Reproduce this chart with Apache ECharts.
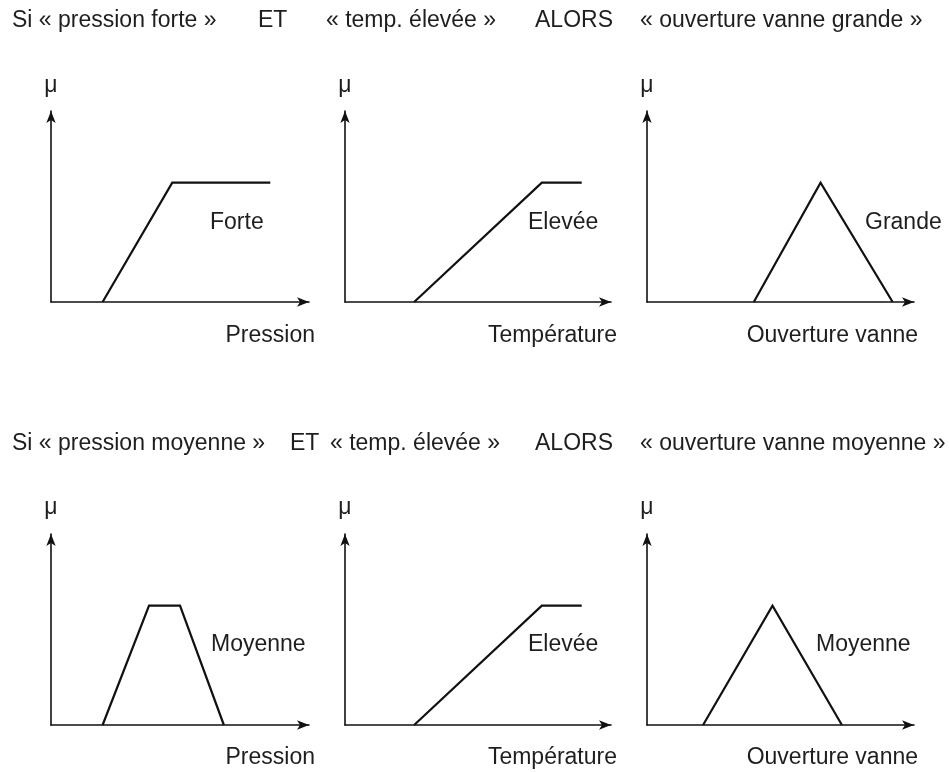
<!DOCTYPE html>
<html>
<head>
<meta charset="utf-8">
<script src="https://cdn.jsdelivr.net/npm/echarts@6/dist/echarts.min.js"></script>
<style>
  html, body { margin: 0; padding: 0; background: #fff; }
  #chart { width: 949px; height: 772px; }
</style>
</head>
<body>
<div id="chart"></div>
<script>
// Rule texts, one clause per chunk
const ruleOne = ['Si « pression forte »', 'ET', '« temp. élevée »', 'ALORS', '« ouverture vanne grande »'];
const ruleTwo = ['Si « pression moyenne »', 'ET', '« temp. élevée »', 'ALORS', '« ouverture vanne moyenne »'];

// Axis and set names
const axisNames = ['Pression', 'Température', 'Ouverture vanne'];
const setNamesOne = ['Forte', 'Elevée', 'Grande'];
const setNamesTwo = ['Moyenne', 'Elevée', 'Moyenne'];
const muLabel = 'μ';

// Membership functions (x on a 0-10 universe, μ from 0 to 1)
const pressionForteX = [2.0, 4.7, 8.5];
const pressionForteMu = [0, 1, 1];
const tempEleveeX = [2.6, 7.4, 8.9];
const tempEleveeMu = [0, 1, 1];
const vanneGrandeX = [4.0, 6.5, 9.2];
const vanneGrandeMu = [0, 1, 0];
const pressionMoyenneX = [2.0, 3.8, 5.0, 6.7];
const pressionMoyenneMu = [0, 1, 1, 0];
const tempEleveeX2 = [2.6, 7.4, 8.9];
const tempEleveeMu2 = [0, 1, 1];
const vanneMoyenneX = [2.1, 4.7, 7.3];
const vanneMoyenneMu = [0, 1, 0];

const panelSeries = [
  [pressionForteX, pressionForteMu],
  [tempEleveeX, tempEleveeMu],
  [vanneGrandeX, vanneGrandeMu],
  [pressionMoyenneX, pressionMoyenneMu],
  [tempEleveeX2, tempEleveeMu2],
  [vanneMoyenneX, vanneMoyenneMu]
];

// Layout
const FONT = '"Liberation Sans", Arial, Helvetica, sans-serif';
const TEXT_COLOR = '#1e1e1e';
const FS = 23;
const colLeft = [51, 345, 647];
const colWidth = [258, 266, 267];
const rowTop = [111, 534];
const plotHeight = 191;

const grids = [], xAxes = [], yAxes = [], series = [];
for (let r = 0; r < 2; r++) {
  for (let c = 0; c < 3; c++) {
    const i = r * 3 + c;
    grids.push({ left: colLeft[c], top: rowTop[r], width: colWidth[c], height: plotHeight });
    const axisLine = {
      show: true,
      onZero: false,
      symbol: ['none', 'arrow'],
      symbolSize: [7, 12],
      lineStyle: { color: '#111', width: 1.6 }
    };
    xAxes.push({
      gridIndex: i, type: 'value', min: 0, max: 10,
      axisLine: axisLine, axisTick: { show: false }, axisLabel: { show: false }, splitLine: { show: false }
    });
    yAxes.push({
      gridIndex: i, type: 'value', min: 0, max: 1.6,
      axisLine: axisLine, axisTick: { show: false }, axisLabel: { show: false }, splitLine: { show: false }
    });
    const [xs, mus] = panelSeries[i];
    series.push({
      type: 'line',
      xAxisIndex: i, yAxisIndex: i,
      data: xs.map((x, k) => [x, mus[k]]),
      symbol: 'none',
      lineStyle: { color: '#111', width: 2.2, join: 'miter' },
      silent: true
    });
  }
}

// Text placement
const titleLeftOne = [12, 258, 326, 535, 640];
const titleLeftTwo = [12, 290, 330, 535, 640];
const titleY = [21, 444];
const setLabelLeft = [[210, 528, 865], [211, 528, 816]];
const setLabelY = [223, 645];
const axisNameRight = [315, 617, 918];
const axisNameY = [336, 758];
const muY = [86, 508];

const graphics = [];
function txt(text, x, y, align) {
  graphics.push({
    type: 'text', x: x, y: y, silent: true,
    style: { text: text, fill: TEXT_COLOR, font: FS + 'px ' + FONT, textAlign: align || 'left', textVerticalAlign: 'middle' }
  });
}
ruleOne.forEach((t, k) => txt(t, titleLeftOne[k], titleY[0]));
ruleTwo.forEach((t, k) => txt(t, titleLeftTwo[k], titleY[1]));
[setNamesOne, setNamesTwo].forEach((names, r) => {
  names.forEach((t, c) => txt(t, setLabelLeft[r][c], setLabelY[r]));
  axisNames.forEach((t, c) => txt(t, axisNameRight[c], axisNameY[r], 'right'));
  colLeft.forEach((x) => txt(muLabel, x, muY[r], 'center'));
});

const chart = echarts.init(document.getElementById('chart'), null, { renderer: 'canvas' });
chart.setOption({
  backgroundColor: '#ffffff',
  animation: false,
  grid: grids,
  xAxis: xAxes,
  yAxis: yAxes,
  series: series,
  graphic: graphics
});
</script>
</body>
</html>
